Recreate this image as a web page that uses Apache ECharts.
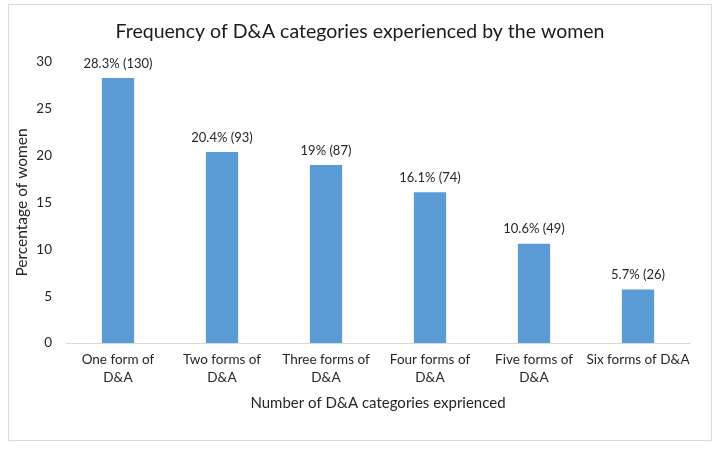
<!DOCTYPE html>
<html><head><meta charset="utf-8">
<script src="https://cdn.jsdelivr.net/npm/echarts@6/dist/echarts.min.js"></script>
<style>html,body{margin:0;padding:0;background:#fff}#c{width:720px;height:449px}</style>
</head><body><div id="c"></div>
<script>
const categories = ["One form of D&A","Two forms of D&A","Three forms of D&A","Four forms of D&A","Five forms of D&A","Six forms of D&A"];
const percentages = [28.3, 20.4, 19, 16.1, 10.6, 5.7];
const counts = [130, 93, 87, 74, 49, 26];
const yTicks = [0, 5, 10, 15, 20, 25, 30];

const chart = echarts.init(document.getElementById('c'), null, {renderer:'canvas'});
const FONT = 'Lato, "Open Sans", sans-serif';
// wrap like the original: last word on its own line, except the final category which fits
const wrapLabel = (v, i) => i < categories.length - 1 ? v.replace(/ (\S+)$/, '\n$1') : v;
chart.setOption({
  animation: false,
  graphic: [{type:'rect', shape:{x:8.5,y:4.5,width:703,height:436}, style:{fill:'none', stroke:'#d9d9d9', lineWidth:1}, silent:true}],
  title: {text:'Frequency of D&A categories experienced by the women', left:'center', top:17,
    textStyle:{fontFamily:FONT, fontSize:19.5, fontWeight:'normal', color:'#1a1a1a'}},
  grid: {left:66, right:30, top:62, bottom:106, outerBoundsMode:'none'},
  xAxis: {type:'category', data:categories,
    axisLine:{lineStyle:{color:'#d9d9d9'}}, axisTick:{show:false},
    axisLabel:{fontFamily:FONT, fontSize:13.5, color:'#262626', margin:8, lineHeight:18, interval:0, formatter:wrapLabel},
    name:'Number of D&A categories exprienced', nameLocation:'middle', nameGap:53,
    nameTextStyle:{fontFamily:FONT, fontSize:15, color:'#262626'}},
  yAxis: {type:'value', min:yTicks[0], max:yTicks[yTicks.length-1], interval:5,
    splitLine:{show:false}, axisLine:{show:false}, axisTick:{show:false},
    axisLabel:{fontFamily:FONT, fontSize:13.5, color:'#262626', margin:14},
    name:'Percentage of women', nameLocation:'middle', nameGap:36, nameMoveOverlap:false,
    nameTextStyle:{fontFamily:FONT, fontSize:15.5, color:'#262626'}},
  series: [{type:'bar', data:percentages, barWidth:'31%', itemStyle:{color:'#5b9bd5'},
    label:{show:true, position:'top', distance:8, fontFamily:FONT, fontSize:13, color:'#262626',
      formatter: p => percentages[p.dataIndex] + '% (' + counts[p.dataIndex] + ')'}}]
});
</script></body></html>
